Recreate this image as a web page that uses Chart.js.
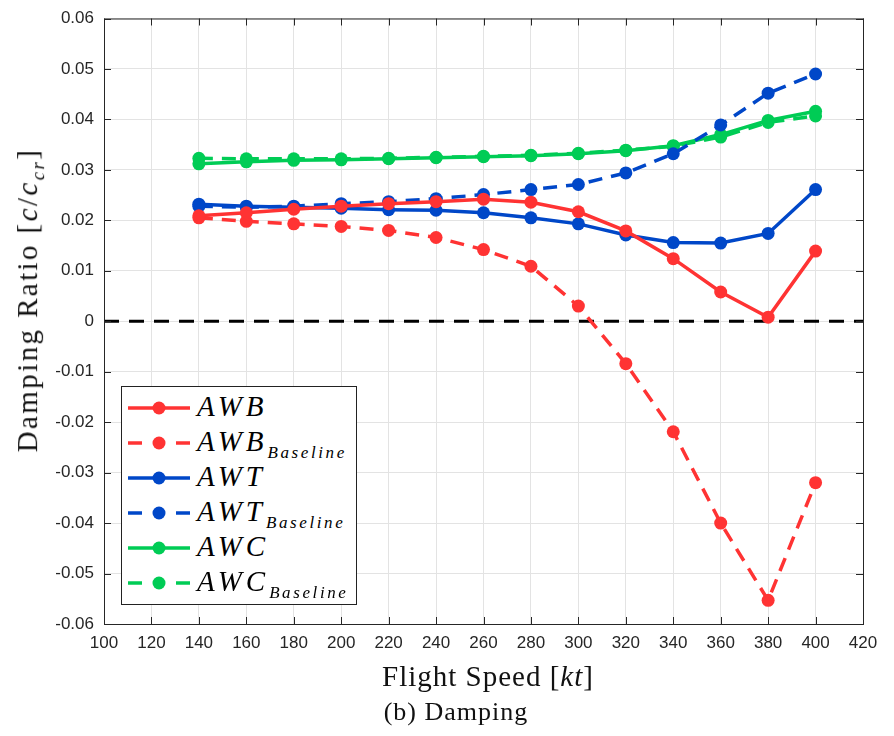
<!DOCTYPE html>
<html>
<head>
<meta charset="utf-8">
<script src="https://cdn.jsdelivr.net/npm/chart.js@4/dist/chart.umd.min.js"></script>
<style>
  body { margin: 0; background: #fff; }
  #wrap { position: relative; width: 894px; height: 736px; }
  canvas { position: absolute; left: 0; top: 0; }
  .serif { font-family: "Liberation Serif", "DejaVu Serif", serif; color: #111; position: absolute; white-space: nowrap; }
  #ytitle { left: 30px; top: 300px; font-size: 29px; letter-spacing: 2.4px; transform: translate(-50%, -50%) rotate(-90deg); }
  #xtitle { left: 488px; top: 676px; font-size: 29px; letter-spacing: 1px; transform: translate(-50%, -50%); }
  #caption { left: 456px; top: 712px; font-size: 26px; letter-spacing: 1px; transform: translate(-50%, -50%); }
  #legend { position: absolute; left: 121px; top: 386px; width: 234px; height: 217px; border: 1px solid #222; background: #fff; }
  .item { position: absolute; left: 0; height: 30px; width: 234px; }
  .item svg { position: absolute; left: 5px; top: 0; }
  .item span { position: absolute; left: 75px; top: -2px; font-family: "Liberation Serif", serif; font-style: italic; font-size: 29px; line-height: 30px; letter-spacing: 4px; }
  .item sub { font-size: 17px; letter-spacing: 2.6px; vertical-align: -7px; }
</style>
</head>
<body>
<div id="wrap">
  <canvas id="c" width="894" height="736"></canvas>
  <div id="ytitle" class="serif">Damping Ratio [<i>c</i>/<i>c<sub style="font-size:19px">cr</sub></i>]</div>
  <div id="xtitle" class="serif">Flight Speed [<i>kt</i>]</div>
  <div id="caption" class="serif">(b) Damping</div>
  <div id="legend"></div>
</div>
<script>
const speeds = [140, 160, 180, 200, 220, 240, 260, 280, 300, 320, 340, 360, 380, 400]
const awb = [0.0209, 0.0215, 0.0222, 0.0228, 0.0233, 0.0237, 0.0242, 0.0236, 0.0217, 0.0179, 0.0124, 0.0058, 0.0008, 0.0139]
const awbBase = [0.0205, 0.0198, 0.0193, 0.0188, 0.0180, 0.0166, 0.0142, 0.0109, 0.0030, -0.0084, -0.0219, -0.0400, -0.0553, -0.0320]
const awt = [0.0232, 0.0228, 0.0226, 0.0224, 0.0221, 0.0220, 0.0215, 0.0205, 0.0193, 0.0171, 0.0156, 0.0155, 0.0174, 0.0261]
const awtBase = [0.0228, 0.0226, 0.0228, 0.0233, 0.0237, 0.0243, 0.0251, 0.0261, 0.0271, 0.0294, 0.0332, 0.0389, 0.0452, 0.0490]
const awc = [0.0312, 0.0316, 0.0319, 0.0320, 0.0322, 0.0324, 0.0326, 0.0328, 0.0332, 0.0338, 0.0348, 0.0370, 0.0398, 0.0416]
const awcBase = [0.0323, 0.0322, 0.0322, 0.0322, 0.0323, 0.0325, 0.0327, 0.0329, 0.0333, 0.0339, 0.0347, 0.0365, 0.0394, 0.0407]
const zeroX = [100, 420]
const zeroY = [0, 0]

const RED = '#ff3333', BLUE = '#0047c8', GREEN = '#00cc55'
const DASH = [14, 9]

function series(label, ys, color, dashed) {
  return {
    label: label,
    data: speeds.map((s, i) => ({x: s, y: ys[i]})),
    borderColor: color,
    backgroundColor: color,
    borderWidth: 3.5,
    borderDash: dashed ? DASH : [],
    pointRadius: 6.5,
    pointHoverRadius: 6.5,
    pointBorderWidth: 0,
    fill: false,
  }
}

const datasets = [
  series('AWB', awb, RED, false),
  series('AWB_Baseline', awbBase, RED, true),
  series('AWT', awt, BLUE, false),
  series('AWT_Baseline', awtBase, BLUE, true),
  series('AWC', awc, GREEN, false),
  series('AWC_Baseline', awcBase, GREEN, true),
  {
    label: 'zero',
    data: zeroX.map((x, i) => ({x: x, y: zeroY[i]})),
    borderColor: '#000',
    borderWidth: 3,
    borderDash: [15, 10],
    pointRadius: 0,
    fill: false,
  },
]

const boxPlugin = {
  id: 'box',
  afterDraw(chart) {
    const {ctx, chartArea: a} = chart
    ctx.save()
    ctx.strokeStyle = '#262626'
    ctx.lineWidth = 1
    ctx.strokeRect(a.left + 0.5, a.top + 0.5, a.right - a.left, a.bottom - a.top)
    // inward tick marks like matlab
    const xs = chart.scales.x, ys = chart.scales.y
    ctx.beginPath()
    xs.ticks.forEach(t => {
      const px = Math.round(xs.getPixelForValue(t.value)) + 0.5
      ctx.moveTo(px, a.bottom); ctx.lineTo(px, a.bottom - 7)
      ctx.moveTo(px, a.top); ctx.lineTo(px, a.top + 7)
    })
    ys.ticks.forEach(t => {
      const py = Math.round(ys.getPixelForValue(t.value)) + 0.5
      ctx.moveTo(a.left, py); ctx.lineTo(a.left + 7, py)
      ctx.moveTo(a.right, py); ctx.lineTo(a.right - 7, py)
    })
    ctx.stroke()
    ctx.restore()
  }
}

new Chart(document.getElementById('c'), {
  type: 'line',
  data: {datasets: datasets},
  options: {
    responsive: false,
    animation: false,
    layout: {padding: {left: 0, top: 16, right: 31, bottom: 0}},
    plugins: {legend: {display: false}, tooltip: {enabled: false}},
    scales: {
      x: {
        type: 'linear', min: 100, max: 420,
        afterFit: (axis) => { axis.height = 112 },
        grid: {color: '#e3e3e3', drawTicks: false},
        border: {display: false},
        ticks: {stepSize: 20, color: '#262626', padding: 9, maxRotation: 0,
          font: {family: 'Liberation Sans, Arial, sans-serif', size: 17}},
      },
      y: {
        min: -0.06, max: 0.06,
        afterFit: (axis) => { axis.width = 104 },
        grid: {color: '#e3e3e3', drawTicks: false},
        border: {display: false},
        ticks: {stepSize: 0.01, color: '#262626', padding: 10,
          callback: (v) => Math.abs(v) < 1e-9 ? '0' : v.toFixed(2),
          font: {family: 'Liberation Sans, Arial, sans-serif', size: 17, lineHeight: 1}},
      },
    },
  },
  plugins: [boxPlugin],
})

// legend inside the plot, matlab style
const legendItems = [
  ['AWB', '', RED, false],
  ['AWB', 'Baseline', RED, true],
  ['AWT', '', BLUE, false],
  ['AWT', 'Baseline', BLUE, true],
  ['AWC', '', GREEN, false],
  ['AWC', 'Baseline', GREEN, true],
]
const leg = document.getElementById('legend')
legendItems.forEach(([name, sub, color, dashed], i) => {
  const div = document.createElement('div')
  div.className = 'item'
  div.style.top = (6 + i * 35) + 'px'
  const line = dashed
    ? `<line x1="1" y1="15" x2="15" y2="15" stroke="${color}" stroke-width="3.5"/><line x1="49" y1="15" x2="63" y2="15" stroke="${color}" stroke-width="3.5"/>`
    : `<line x1="1" y1="15" x2="63" y2="15" stroke="${color}" stroke-width="3.5"/>`
  div.innerHTML = `<svg width="66" height="30">${line}<circle cx="32" cy="15" r="6.5" fill="${color}"/></svg>` +
    `<span>${name}${sub ? '<sub>' + sub + '</sub>' : ''}</span>`
  leg.appendChild(div)
})
</script>
</body>
</html>
